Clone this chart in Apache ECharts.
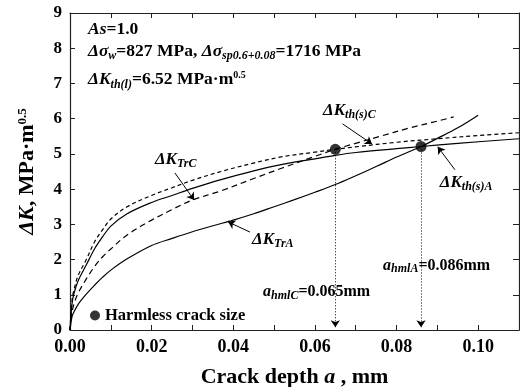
<!DOCTYPE html>
<html><head><meta charset="utf-8">
<script src="https://cdn.jsdelivr.net/npm/echarts@6/dist/echarts.min.js"></script>
<style>html,body{margin:0;padding:0;background:#fff}#c{width:520px;height:387px}</style>
</head><body><div id="c"></div>
<script>
// ---- data ----
const aThA = [0,0.0005,0.001,0.002,0.004,0.006,0.008,0.010,0.014,0.020,0.025,0.030,0.037,0.045,0.052,0.060,0.065,0.070,0.080,0.086,0.095,0.110];
const kThA = [0,0.75,1.05,1.4,1.85,2.3,2.65,2.95,3.3,3.62,3.82,4.02,4.27,4.52,4.70,4.86,4.96,5.04,5.15,5.21,5.30,5.43];
const aThC = [0,0.0005,0.001,0.002,0.004,0.006,0.008,0.010,0.014,0.020,0.025,0.030,0.037,0.045,0.052,0.060,0.065,0.070,0.080,0.090,0.100,0.110];
const kThC = [0,0.85,1.15,1.55,2.0,2.5,2.85,3.15,3.5,3.82,4.04,4.25,4.5,4.74,4.92,5.05,5.13,5.2,5.33,5.43,5.52,5.6];
const aTrC = [0,0.0005,0.001,0.002,0.004,0.006,0.008,0.010,0.014,0.020,0.025,0.030,0.037,0.045,0.052,0.060,0.065,0.070,0.076,0.083,0.090,0.094];
const kTrC = [0,0.5,0.75,1.05,1.45,1.8,2.08,2.3,2.7,3.12,3.42,3.69,3.95,4.3,4.6,4.93,5.13,5.3,5.5,5.73,5.93,6.05];
const aTrA = [0,0.0005,0.001,0.002,0.004,0.006,0.008,0.010,0.014,0.020,0.025,0.030,0.035,0.040,0.045,0.050,0.055,0.060,0.065,0.070,0.075,0.080,0.086,0.090,0.095,0.100];
const kTrA = [0,0.38,0.52,0.73,1.02,1.27,1.5,1.7,2.02,2.4,2.6,2.79,2.96,3.12,3.3,3.5,3.7,3.91,4.13,4.38,4.64,4.91,5.21,5.44,5.74,6.1];
const harmlessA = [0.065, 0.086];
const harmlessK = [5.13, 5.21];
const xMin = 0, xMax = 0.11, xStep = 0.01;
const yMin = 0, yMax = 9, yStep = 1;

// ---- styles ----
const F = '"Liberation Serif","Times New Roman",serif';
function rich(s, sub, sup, dsub, dsup) {
  return {
    b: {fontFamily:F, fontWeight:'bold', fontSize:s, color:'#000'},
    i: {fontFamily:F, fontWeight:'bold', fontStyle:'italic', fontSize:s, color:'#000'},
    sub: {fontFamily:F, fontWeight:'bold', fontStyle:'italic', fontSize:sub, color:'#000', padding:[dsub,0,0,0]},
    sup: {fontFamily:F, fontWeight:'bold', fontSize:sup, color:'#000', padding:[0,0,dsup,0]}
  };
}
const pairs = (xs, ys) => xs.map((x, k) => [x, ys[k]]);
const lineBase = {type:'line', showSymbol:false, smooth:0.35, silent:true, z:3};

const chart = echarts.init(document.getElementById('c'), null, {renderer:'canvas'});
const axisLineStyle = {color:'#222', width:1.2};
const tickStyle = {color:'#222', width:1};
chart.setOption({
  animation:false,
  backgroundColor:'#fff',
  grid:{left:70, right:1, top:13, bottom:57, containLabel:false, outerBoundsMode:'none'},
  legend:{
    data:[{name:'Harmless crack size', icon:'circle'}],
    left:85, top:302, itemWidth:10, itemHeight:10, itemGap:5,
    textStyle:{fontFamily:F, fontWeight:'bold', fontSize:16.5, color:'#000'}
  },
  xAxis:[{
    type:'value', min:xMin, max:xMax, interval:xStep, position:'bottom',
    axisLine:{show:true, onZero:false, lineStyle:axisLineStyle},
    axisTick:{show:true, inside:true, length:5, lineStyle:tickStyle},
    axisLabel:{fontFamily:F, fontWeight:'bold', fontSize:18, color:'#000', margin:8,
      formatter:v => (Math.round(v*100) % 2 === 0 ? v.toFixed(2) : '')},
    splitLine:{show:false},
    name:'{b|Crack depth }{i|a}{b| , mm}', nameLocation:'middle', nameGap:36,
    nameTextStyle:{rich:rich(22,14,12,0,0)}
  },{
    type:'value', min:xMin, max:xMax, interval:xStep, position:'top',
    axisLine:{show:true, onZero:false, lineStyle:axisLineStyle},
    axisTick:{show:true, inside:true, length:5, lineStyle:tickStyle},
    axisLabel:{show:false}, splitLine:{show:false}
  }],
  yAxis:[{
    type:'value', min:yMin, max:yMax, interval:yStep, position:'left',
    axisLine:{show:true, onZero:false, lineStyle:axisLineStyle},
    axisTick:{show:true, inside:true, length:5, lineStyle:tickStyle},
    axisLabel:{fontFamily:F, fontWeight:'bold', fontSize:17, color:'#000', margin:8},
    splitLine:{show:false},
    name:'{i|ΔK}{b|, MPa·m}{sup|0.5}', nameLocation:'middle', nameGap:31, nameRotate:90,
    nameTextStyle:{rich:rich(22,14,13,0,10)}
  },{
    type:'value', min:yMin, max:yMax, interval:yStep, position:'right',
    axisLine:{show:true, onZero:false, lineStyle:axisLineStyle},
    axisTick:{show:true, inside:true, length:6, lineStyle:tickStyle},
    axisLabel:{show:false}, splitLine:{show:false}
  }],
  series:[
    Object.assign({}, lineBase, {name:'ThA', data:pairs(aThA,kThA), lineStyle:{color:'#000', width:1.2}}),
    Object.assign({}, lineBase, {name:'ThC', data:pairs(aThC,kThC), lineStyle:{color:'#000', width:1.2, type:[4,3]}}),
    Object.assign({}, lineBase, {name:'TrC', data:pairs(aTrC,kTrC), lineStyle:{color:'#000', width:1.2, type:[6,4]}}),
    Object.assign({}, lineBase, {name:'TrA', data:pairs(aTrA,kTrA), lineStyle:{color:'#000', width:1.2}}),
    {
      type:'scatter', name:'Harmless crack size', data:pairs(harmlessA,harmlessK),
      symbol:'circle', symbolSize:11, itemStyle:{color:'#000'}, z:5, silent:true,
      markLine:{
        silent:true, animation:false, symbol:['none','arrow'], symbolSize:7,
        label:{show:false}, emphasis:{disabled:true},
        data:[
          [{coord:[harmlessA[0],harmlessK[0]], lineStyle:{type:[1,2], color:'#000', width:1}}, {coord:[harmlessA[0],0.08]}],
          [{coord:[harmlessA[1],harmlessK[1]], lineStyle:{type:[1,2], color:'#000', width:1}}, {coord:[harmlessA[1],0.08]}],
          [{coord:[0.0668,5.85], lineStyle:{type:'solid', color:'#000', width:1}}, {coord:[0.0740,5.28]}],
          [{coord:[0.0257,4.46], lineStyle:{type:'solid', color:'#000', width:1}}, {coord:[0.0304,3.69]}],
          [{coord:[0.0441,2.78], lineStyle:{type:'solid', color:'#000', width:1}}, {coord:[0.0387,3.07]}],
          [{coord:[0.0943,4.55], lineStyle:{type:'solid', color:'#000', width:1}}, {coord:[0.0901,5.20]}]
        ]
      }
    }
  ]
});

// ---- text annotations, anchored in data coordinates ----
const notes = [
  {at:[0.0044,8.52], text:'{i|As}{b|=1.0}', r:rich(17.5,12,10,8,8)},
  {at:[0.0044,7.90], text:'{i|Δσ}{sub|w}{b|=827 MPa, }{i|Δσ}{sub|sp0.6+0.08}{b|=1716 MPa}', r:rich(17.5,12,10,9,8)},
  {at:[0.0044,7.10], text:'{i|ΔK}{sub|th(l)}{b|=6.52 MPa·m}{sup|0.5}', r:rich(17.5,12,10,9,10)},
  {at:[0.0620,6.22], text:'{i|ΔK}{sub|th(s)C}', r:rich(17,12,10,8,7)},
  {at:[0.0208,4.83], text:'{i|ΔK}{sub|TrC}', r:rich(17,12,10,8,7)},
  {at:[0.0446,2.56], text:'{i|ΔK}{sub|TrA}', r:rich(17,12,10,8,7)},
  {at:[0.0906,4.18], text:'{i|ΔK}{sub|th(s)A}', r:rich(17,12,10,8,7)},
  {at:[0.0767,1.82], text:'{i|a}{sub|hmlA}{b|=0.086mm}', r:rich(16,12,10,7,7)},
  {at:[0.0473,1.08], text:'{i|a}{sub|hmlC}{b|=0.065mm}', r:rich(16,12,10,7,7)}
];
const g = notes.map(n => {
  const p = chart.convertToPixel({gridIndex:0}, n.at);
  return {type:'text', x:p[0], y:p[1], z:10, silent:true,
    style:{text:n.text, rich:n.r, align:'left', verticalAlign:'middle', fill:'#000'}};
});
chart.setOption({graphic:g});
</script>
</body></html>
